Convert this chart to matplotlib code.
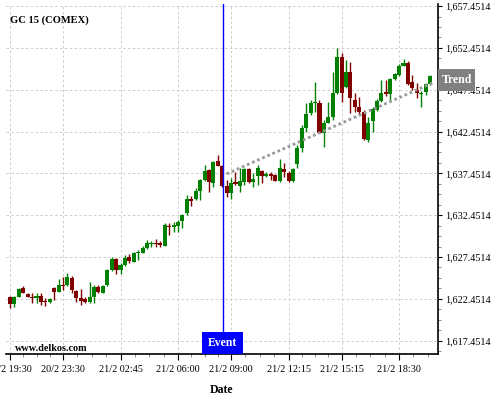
import matplotlib
matplotlib.use("Agg")
import matplotlib.pyplot as plt
import matplotlib.transforms as mtransforms
from matplotlib.patches import Rectangle
from matplotlib.ticker import FixedLocator, FuncFormatter

plt.rcParams['font.family'] = ['Liberation Serif', 'DejaVu Serif']

# ---- data (15-minute candles, index = bar number) ----
opens = [1622.64, 1621.80, 1622.71, 1623.72, 1623.04, 1622.71, 1622.52, 1622.80, 1622.23, 1622.12,
         1623.72, 1623.31, 1624.11, 1624.11, 1624.99, 1623.39, 1622.52, 1622.44, 1622.12, 1622.64,
         1623.91, 1623.19, 1624.11, 1625.91, 1627.19, 1625.91, 1626.51, 1627.43, 1626.90, 1627.90,
         1627.98, 1628.50, 1629.02, 1629.17, 1629.10, 1628.78, 1631.21, 1631.02, 1631.17, 1631.80,
         1632.69, 1634.40, 1634.40, 1635.39, 1636.67, 1637.87, 1636.35, 1638.98, 1638.38, 1635.99,
         1635.15, 1636.47, 1635.99, 1636.40, 1637.99, 1636.47, 1637.10, 1637.75, 1637.15, 1637.35,
         1637.27, 1636.59, 1637.99, 1637.55, 1636.59, 1638.59, 1640.46, 1642.93, 1644.72, 1645.85,
         1645.92, 1642.33, 1643.53, 1644.17, 1647.12, 1651.42, 1647.83, 1649.56, 1646.24, 1645.37,
         1644.84, 1641.46, 1643.77, 1645.04, 1646.16, 1647.23, 1646.92, 1648.72, 1649.23, 1650.34,
         1650.70, 1648.43, 1647.44, 1646.92, 1647.17, 1648.12]
closes = [1621.80, 1622.68, 1623.60, 1623.19, 1622.71, 1622.52, 1622.83, 1622.12, 1622.04, 1622.44,
          1623.31, 1624.11, 1623.99, 1625.11, 1623.51, 1622.52, 1622.23, 1622.12, 1622.71, 1623.91,
          1623.31, 1624.03, 1625.91, 1627.19, 1625.91, 1626.51, 1627.31, 1627.02, 1627.90, 1628.02,
          1628.57, 1629.10, 1629.17, 1628.98, 1628.90, 1631.29, 1631.02, 1631.29, 1631.68, 1632.49,
          1634.40, 1634.20, 1635.39, 1636.67, 1637.78, 1636.47, 1638.86, 1638.38, 1635.99, 1635.15,
          1636.35, 1636.16, 1636.55, 1637.99, 1636.47, 1636.79, 1638.15, 1637.15, 1637.35, 1637.15,
          1636.59, 1638.14, 1637.59, 1636.55, 1637.99, 1640.46, 1642.86, 1644.57, 1645.92, 1646.04,
          1642.33, 1643.53, 1644.17, 1647.12, 1651.42, 1647.12, 1649.56, 1646.45, 1645.44, 1644.84,
          1641.54, 1643.53, 1645.13, 1646.12, 1647.12, 1646.92, 1648.72, 1649.32, 1650.34, 1650.70,
          1648.12, 1647.64, 1647.04, 1647.12, 1648.12, 1649.11]
highs = [1622.80, 1622.80, 1623.72, 1623.99, 1623.15, 1623.19, 1623.12, 1623.10, 1622.59, 1622.56,
         1623.81, 1624.79, 1625.11, 1625.51, 1625.19, 1623.51, 1623.60, 1622.68, 1624.44, 1624.05,
         1624.05, 1624.11, 1626.03, 1627.50, 1627.34, 1626.74, 1627.70, 1627.78, 1628.00, 1628.30,
         1628.72, 1629.50, 1629.41, 1629.62, 1629.41, 1631.49, 1631.49, 1631.68, 1631.83, 1632.60,
         1634.88, 1634.76, 1635.75, 1636.79, 1638.47, 1637.99, 1638.98, 1639.66, 1638.47, 1636.67,
         1636.88, 1637.67, 1638.07, 1638.10, 1638.10, 1637.47, 1638.47, 1637.87, 1637.60, 1637.67,
         1637.39, 1639.18, 1638.67, 1637.75, 1638.10, 1640.86, 1643.25, 1645.90, 1646.24, 1648.43,
         1646.24, 1643.85, 1646.04, 1649.63, 1652.43, 1651.83, 1651.03, 1650.82, 1647.04, 1646.56,
         1645.04, 1644.25, 1645.40, 1646.36, 1648.63, 1648.63, 1648.87, 1649.47, 1650.49, 1651.11,
         1650.90, 1649.23, 1648.24, 1647.32, 1648.28, 1649.23]
lows = [1621.36, 1621.45, 1622.62, 1623.10, 1622.62, 1621.92, 1621.92, 1621.72, 1621.64, 1621.98,
        1622.32, 1623.22, 1623.51, 1623.99, 1623.12, 1622.12, 1621.72, 1621.98, 1621.98, 1621.92,
        1623.15, 1623.10, 1623.99, 1625.79, 1625.43, 1625.39, 1626.39, 1626.71, 1626.80, 1627.10,
        1627.88, 1628.38, 1628.62, 1628.69, 1628.62, 1628.72, 1630.09, 1630.49, 1630.49, 1630.89,
        1632.49, 1633.56, 1634.28, 1634.28, 1636.55, 1635.27, 1635.87, 1638.29, 1635.83, 1634.67,
        1634.36, 1636.07, 1635.27, 1636.07, 1636.31, 1635.87, 1636.07, 1636.28, 1637.03, 1636.67,
        1636.49, 1636.47, 1637.07, 1636.43, 1636.43, 1638.07, 1640.06, 1642.45, 1644.45, 1644.84,
        1642.23, 1640.66, 1643.43, 1643.85, 1646.96, 1646.04, 1647.68, 1644.65, 1644.84, 1644.45,
        1641.40, 1641.25, 1642.45, 1644.93, 1645.99, 1646.72, 1646.04, 1648.57, 1649.11, 1650.25,
        1648.04, 1647.44, 1646.45, 1645.44, 1646.84, 1648.04]

tick_idx = [0, 12, 25, 38, 50, 63, 75, 88]
tick_labels = ["20/2 19:30", "20/2 23:30", "21/2 02:45", "21/2 06:00",
               "21/2 09:00", "21/2 12:15", "21/2 15:15", "21/2 18:30"]
y_ticks = [1617.4514, 1622.4514, 1627.4514, 1632.4514, 1637.4514,
           1642.4514, 1647.4514, 1652.4514, 1657.4514]
event_x = 48.26
trend_x = [49.0, 95.5]
trend_y = [1637.39, 1648.25]
trend_label_y = 1648.65
title = "GC 15 (COMEX)"

# ---- figure ----
fig = plt.figure(figsize=(5, 4), dpi=100)
ax = fig.add_axes([6 / 500, 46 / 400, 432 / 500, 350 / 400])

GREEN = "#008000"
RED = "#800000"
xs = list(range(len(opens)))
colors = [GREEN if c >= o else RED for o, c in zip(opens, closes)]
bottoms = [min(o, c) for o, c in zip(opens, closes)]
heights = [max(abs(c - o), 0.12) for o, c in zip(opens, closes)]

ax.vlines(xs, lows, highs, colors=colors, linewidth=1.0, zorder=3)
ax.bar(xs, heights, bottom=bottoms, width=0.92, color=colors, linewidth=0, zorder=4)

# trend line
ax.plot(trend_x, trend_y, color="#999999", linestyle=(0, (1, 1)), linewidth=2.0, zorder=5)

ax.set_xlim(-0.9, 96.8)
ax.set_ylim(1615.86, 1657.70)

# grid
ax.grid(True, which="major", color="#cccccc", linestyle=(0, (2.5, 2.5)), linewidth=0.7)
ax.set_axisbelow(True)

# spines
for s in ["left", "top"]:
    ax.spines[s].set_visible(False)
ax.spines["right"].set_linewidth(1.2)
ax.spines["bottom"].set_linewidth(1.2)

# y axis on right
ax.yaxis.tick_right()
ax.yaxis.set_major_locator(FixedLocator(y_ticks))
ax.yaxis.set_major_formatter(FuncFormatter(lambda v, p: f"{v:,.4f}"))
ax.yaxis.set_minor_locator(FixedLocator([y_ticks[0] + 1.25 * k for k in range(-1, 34) if k % 4 != 0]))
ax.tick_params(axis="y", which="major", length=3, width=0.8, pad=2, labelsize=7.3, colors="black")
ax.tick_params(axis="y", which="minor", length=2, width=0.6, color="#777777")

# x axis
ax.set_xticks(tick_idx)
ax.set_xticklabels(tick_labels)
minor = []
ext = tick_idx + [101]
for a, b in zip(ext[:-1], ext[1:]):
    g = (b - a) / 4 if b != 101 else 3.25
    for k in (1, 2, 3):
        minor.append(a + g * k)
ax.xaxis.set_minor_locator(FixedLocator([m for m in minor if m < 96.8]))
ax.tick_params(axis="x", which="major", length=4, width=0.8, pad=4, labelsize=7.3)
ax.tick_params(axis="x", which="minor", length=2.5, width=0.6, color="#777777")

# title & watermark
ax.text(0.009, 0.954, title, transform=ax.transAxes, fontsize=7.6, fontweight="bold",
        ha="left", va="center")
ax.text(0.021, 0.016, "www.delkos.com", transform=ax.transAxes, fontsize=7.3,
        fontweight="bold", ha="left", va="center", zorder=6)

# event marker
ax.axvline(event_x, ymin=0.06, ymax=1.0, color="#0000ff", linewidth=1.0, zorder=6)
tr_ev = mtransforms.blended_transform_factory(ax.transData, ax.transAxes)
ax.add_patch(Rectangle((43.4, 0.0), 9.3, 0.063, transform=tr_ev, facecolor="#0000ff",
                       edgecolor="none", zorder=7, clip_on=False))
ax.text(48.05, 0.031, "Event", transform=tr_ev, color="white", fontsize=8.5,
        fontweight="bold", ha="center", va="center", zorder=8)

# trend label
tr_tl = mtransforms.blended_transform_factory(ax.transAxes, ax.transData)
ax.add_patch(Rectangle((1.0, 1647.35), 37 / 432, 2.6, transform=tr_tl, facecolor="#808080",
                       edgecolor="none", zorder=10, clip_on=False))
ax.text(1.0 + 18.5 / 432, trend_label_y, "Trend", transform=tr_tl, color="white",
        fontsize=8.5, fontweight="bold", ha="center", va="center", zorder=11, clip_on=False)

fig.text(0.442, 0.025, "Date", fontsize=8.5, fontweight="bold", ha="center", va="center")

fig.savefig("out.png", dpi=100)
